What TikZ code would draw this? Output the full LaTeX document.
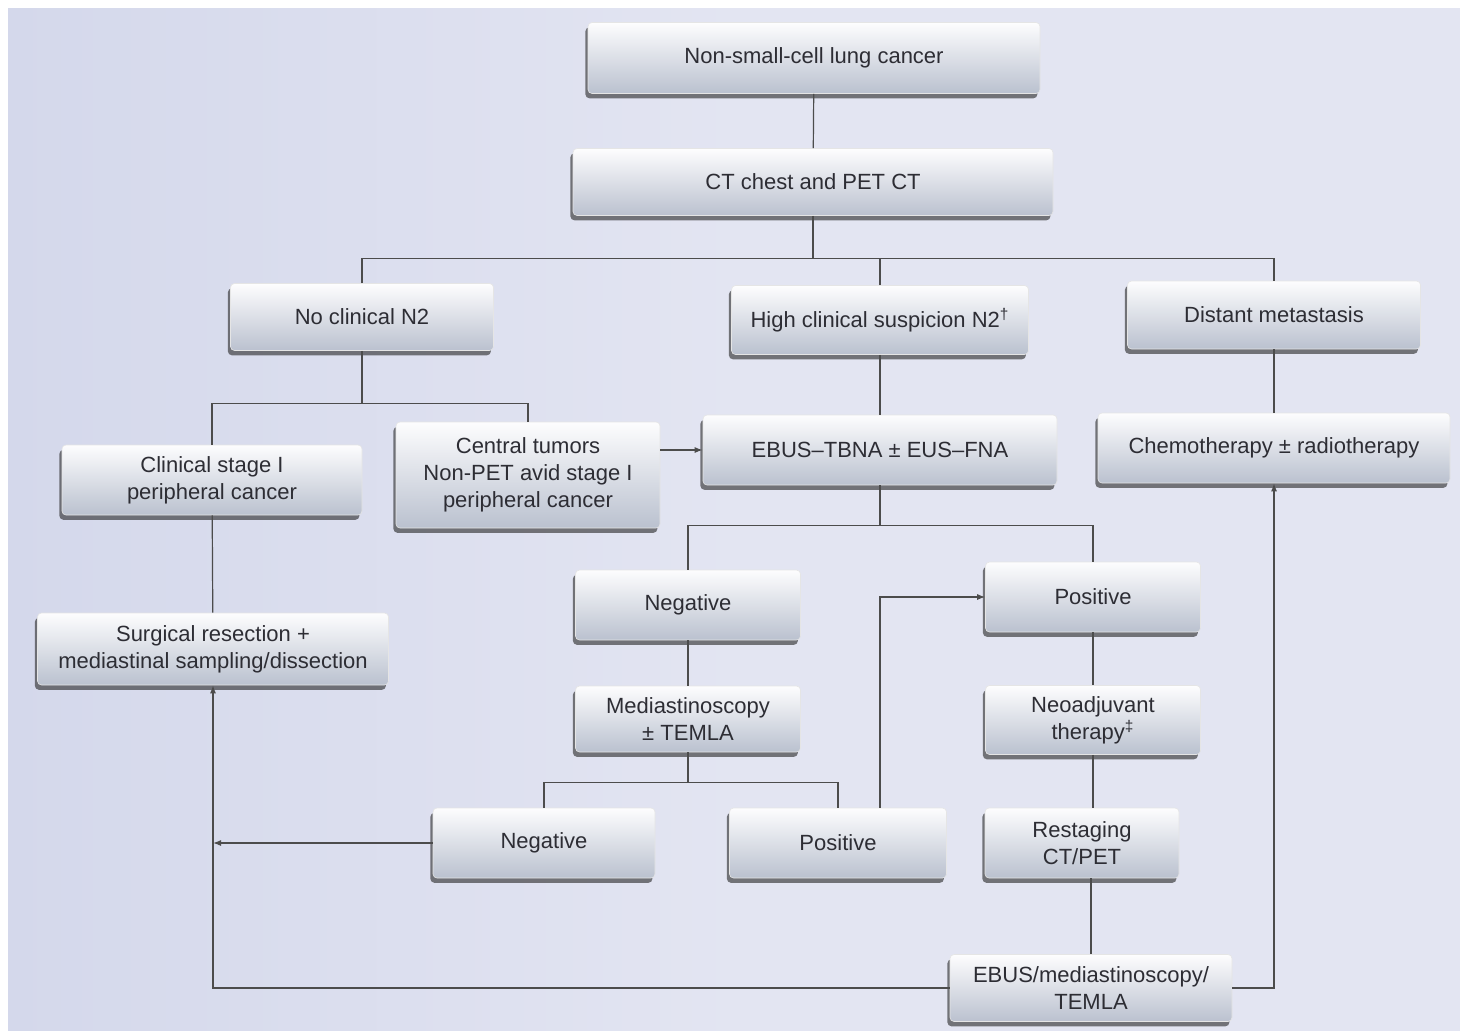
\documentclass[tikz,border=0pt]{standalone}
\usepackage{fontspec}
\setmainfont{Liberation Sans}
\usepackage{tikz}
\usetikzlibrary{arrows.meta,positioning,calc,shadows}

\definecolor{bgback}{RGB}{227,229,242}
\definecolor{bgleft}{RGB}{212,216,235}
\definecolor{boxtop}{RGB}{253,253,254}
\definecolor{boxbot}{RGB}{186,193,207}
\definecolor{inkgray}{RGB}{45,45,52}

\begin{document}
\begin{tikzpicture}[x=0.5pt, y=-0.5pt, >={Latex[length=4pt,width=3pt]},
    stage/.style={rounded corners=2pt, align=center, inner sep=1pt, top color=boxtop, bottom color=boxbot,
      draw=white!80!gray, line width=0.3pt, text=inkgray, font=\fontsize{11}{13.5}\selectfont,
      drop shadow={shadow xshift=-1.3pt, shadow yshift=-2.4pt, fill=black!85, opacity=0.6}},
    link/.style={draw=black!70, line width=0.6pt}]
    % Background
    \useasboundingbox (0,0) rectangle (1460,1030);
    \clip (0,0) rectangle (1460,1030);
    \fill[white] (0,0) rectangle (1460,1030);
    \shade[left color=bgleft, right color=bgback, middle color=bgback] (8,8) rectangle (1480,1050);
    % Top
    \node[stage, minimum width=226pt, minimum height=35.5pt] (nsclc) at (814,58) {Non-small-cell lung cancer};
    \node[stage, minimum width=240pt, minimum height=33.5pt] (ct) at (813,182) {CT chest and PET CT};
    % Clinical groups
    \node[stage, minimum width=131.5pt, minimum height=33.5pt] (non2) at (362,317) {No clinical N2};
    \node[stage, minimum width=148.5pt, minimum height=34.5pt] (highn2) at (880,320) {High clinical suspicion N2\textsuperscript{\textdagger}};
    \node[stage, minimum width=146.5pt, minimum height=34pt] (distant) at (1274,315) {Distant metastasis};
    % Second row
    \node[stage, minimum width=150pt, minimum height=35pt] (stagei) at (212,480) {Clinical stage I\\peripheral cancer};
    \node[stage, minimum width=132pt, minimum height=53pt] (central) at (528,475) {Central tumors\\Non-PET avid stage I\\peripheral cancer};
    \node[stage, minimum width=177pt, minimum height=35pt] (ebus) at (880,450) {EBUS--TBNA ± EUS--FNA};
    \node[stage, minimum width=176pt, minimum height=35pt] (chemo) at (1274,448) {Chemotherapy ± radiotherapy};
    % Results
    \node[stage, minimum width=112.5pt, minimum height=35pt] (neg1) at (688,605) {Negative};
    \node[stage, minimum width=107.5pt, minimum height=35pt] (pos1) at (1093,597) {Positive};
    \node[stage, minimum width=175.5pt, minimum height=36pt] (surgery) at (213,649) {Surgical resection +\\mediastinal sampling/dissection};
    \node[stage, minimum width=112.5pt, minimum height=33pt] (medscopy) at (688,719) {Mediastinoscopy\\± TEMLA};
    \node[stage, minimum width=107.5pt, minimum height=34.5pt] (neoadj) at (1093,720) {Neoadjuvant\\therapy\textsuperscript{\textdaggerdbl}};
    \node[stage, minimum width=111pt, minimum height=35pt] (neg2) at (544,843) {Negative};
    \node[stage, minimum width=108.5pt, minimum height=35pt] (pos2) at (838,843) {Positive};
    \node[stage, minimum width=97pt, minimum height=35pt] (restage) at (1082,843) {Restaging\\CT/PET};
    \node[stage, minimum width=141pt, minimum height=33.5pt] (ebus2) at (1091,988) {EBUS/mediastinoscopy/\\TEMLA};
    \coordinate (retest) at (880,0);
    % Tree lines
    \draw[link] (nsclc) -- (ct);
    \draw[link] (ct.south) -- ++(0,43) coordinate (split1);
    \draw[link] (non2.north) |- (split1) -| (distant.north);
    \draw[link] (highn2.north) -- (highn2.north |- split1);
    \draw[link] (non2.south) -- ++(0,53) coordinate (split2);
    \draw[link] (stagei.north) |- (split2) -| (central.north);
    \draw[link] (highn2) -- (ebus);
    \draw[link] (distant) -- (chemo);
    \draw[link, ->] (central.east |- ebus) -- (ebus.west);
    \draw[link] (ebus.south) -- ++(0,40) coordinate (split3);
    \draw[link] (neg1.north) |- (split3) -| (pos1.north);
    \draw[link] (stagei) -- (surgery);
    \draw[link] (neg1) -- (medscopy);
    \draw[link] (medscopy.south) -- ++(0,30) coordinate (split4);
    \draw[link] (neg2.north) |- (split4) -| (pos2.north);
    \draw[link] (pos1) -- (neoadj);
    \draw[link] (neoadj) -- (restage.north -| neoadj);
    \draw[link] (restage.south -| ebus2) -- (ebus2);
    % Feedback arrows
    \draw[link, ->] (pos2.north -| retest) |- (pos1.west);
    \draw[link, ->] (neg2.west) -- (neg2.west -| surgery);
    \draw[link, ->] (ebus2.west) -| (surgery.south);
    \draw[link, ->] (ebus2.east) -| (chemo.south);
\end{tikzpicture}
\end{document}
